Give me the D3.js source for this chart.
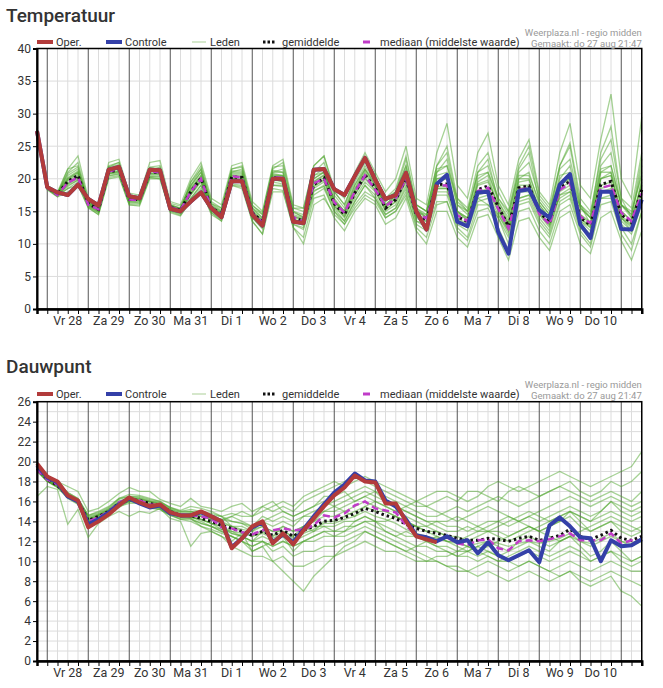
<!DOCTYPE html>
<html>
<head>
<meta charset="utf-8">
<script src="https://cdn.jsdelivr.net/npm/d3@7"></script>
<style>
  body { margin: 0; background: #fff; }
  text { font-family: Roboto, Arial, sans-serif; }
</style>
</head>
<body>
<svg width="663" height="688"></svg>
<script>
// 6-hourly steps from do 27 aug 18:00 to vr 11 sep 12:00 (60 points)
const dayLabels = ["Vr 28", "Za 29", "Zo 30", "Ma 31", "Di 1", "Wo 2", "Do 3",
                   "Vr 4", "Za 5", "Zo 6", "Ma 7", "Di 8", "Wo 9", "Do 10"];

// ---- Temperatuur ----
const tempOper = [27.3,18.7,17.9,17.5,19.1,16.9,15.9,21.4,21.8,17.3,17.0,21.4,21.3,15.4,15.0,16.5,17.9,15.5,14.1,19.6,
  19.6,14.5,12.8,20.0,20.0,13.4,13.2,21.4,21.5,18.4,17.5,20.4,23.2,19.8,16.9,17.5,20.9,15.0,12.2,19.1];
const tempControle = [27.3,18.7,17.9,17.5,19.1,16.9,15.9,21.4,21.8,17.3,17.0,21.4,21.3,15.4,15.0,16.5,17.9,15.5,14.1,19.6,
  19.6,14.5,12.8,20.0,20.0,13.4,13.2,21.4,21.5,18.4,17.5,20.4,23.2,19.8,16.9,17.5,20.9,15.0,12.2,19.2,
  20.6,13.4,12.7,17.9,18.0,11.8,8.5,18.1,18.4,15.2,14.0,19.1,20.7,13.0,10.9,18.0,18.0,12.3,12.2,16.8];
const tempMean = [27.3,18.7,17.6,19.6,20.5,16.2,15.3,21.0,21.4,16.8,16.8,21.0,21.0,15.6,15.2,18.0,20.1,15.5,14.6,20.3,
  20.2,14.8,13.4,20.2,20.0,14.0,13.5,19.1,20.1,16.2,14.5,17.8,20.6,18.6,15.5,16.8,20.1,14.5,13.7,19.1,
  19.2,14.2,13.4,18.3,18.9,15.7,12.7,18.6,18.9,15.0,13.2,18.6,19.6,14.0,12.9,19.1,19.6,14.5,13.2,18.3];
const tempMedian = [27.3,18.6,17.5,19.4,20.2,16.0,15.3,21.1,21.5,16.8,16.7,21.1,21.0,15.6,15.2,18.0,20.0,15.4,14.5,20.4,
  20.2,14.7,13.3,20.3,20.1,14.1,13.4,19.3,20.0,16.4,14.8,18.0,20.5,18.3,15.8,17.0,20.0,14.7,13.9,18.9,
  19.0,14.4,13.5,18.1,18.6,15.4,12.4,18.3,18.6,14.6,13.0,18.3,19.3,14.2,13.2,18.6,19.0,14.8,13.5,17.8];
const tempMembers = [
  [27.5,18.9,17.8,20.5,21.5,16.5,15.5,21.5,22,17,17,21.5,21.5,16,15.5,19,21,16,15,21,21,15.5,14,21,21,15,14,20,21,17,15,19,22,19.5,16,17.5,21.5,15.5,14.5,20.5,21,15,14,20,21,16.5,13.5,20,21,16,14,20,22,15.5,14,21,22,16,14.5,21],
  [27.2,18.5,17.4,18.5,19.5,15.8,14.8,20.5,20.8,16.5,16.3,20.3,20.4,15.2,14.6,17,19,15,14,19.5,19.5,14,12.5,19,19,13,12.5,18,19,15.5,13.5,16.5,19,17.5,14.5,15.5,19,13.5,12.5,17.5,17.5,13,12,16.5,17,14,11,16.5,17,13.5,11.5,16.5,17.5,12.5,11,17,17.5,13,11.5,16],
  [27.4,18.8,17.7,21,22.5,16.8,15.8,22,22.5,17.5,17.2,21.8,22,16,15.4,19.5,22,16.5,15.5,21.5,22,16,14.5,21.5,22.5,15.5,15,21,22.5,18,16,20,23,20.5,17,18.5,23.5,16,15,22,25,17,15.5,22,24,18,15,22,25,17.5,15.5,22,25.5,17,15,23,26,17,15.5,24],
  [27.3,18.6,17.5,19,19.8,16,15,20.8,21,16.6,16.6,20.5,20.6,15.4,15,17.5,19.5,15.2,14.2,19.8,19.6,14.5,13,19.5,19.2,13.5,12.8,18.2,18.8,15,13,16,18,17,14,15,18,12.5,11,16,16.5,12,10.5,15,15.5,12.5,9,15,15.5,12,10,15,16,11.5,9.5,16,16.5,11.5,9,15],
  [27.6,18.8,17.8,20,21,16.4,15.5,21.2,21.8,17,17,21.2,21.2,15.8,15.4,18.5,20.5,15.8,14.8,20.8,20.8,15,13.8,20.8,20.5,14.5,14,20,21,16.5,15,18.5,21.5,19,16,17.5,21,15,14.5,21,23,16,14.5,21,23,16.5,14,21.5,24,16.5,14.5,22,25,16,14,24,28,17,14,22],
  [27.1,18.4,17.3,19.2,20,15.9,15,20.9,21.2,16.4,16.5,20.8,20.7,15.5,15.1,17.8,19.8,15.2,14.4,20,19.8,14.6,13,20,19.5,13.8,13,18.5,19.5,15.8,14,17,19.5,18,15,16,19.5,14,13,18.5,18.5,13.5,12.5,17.5,18,15,12,18,18,14.5,12.5,17.5,18.5,13.5,12,18,18.5,14,12.5,17],
  [27.3,18.7,17.6,19.8,20.8,16.2,15.3,21,21.5,16.9,16.8,21,21.1,15.6,15.3,18.2,20.3,15.6,14.7,20.5,20.4,15,13.5,20.5,20.5,14.2,13.8,19.5,20.5,16.5,14.8,18,21,19,15.8,17,20.5,15,14,19.5,20,15,14,19,19.5,16,13,19,19,15.5,13.5,19,20,14.5,13,20,20.5,15,13.5,19],
  [27.8,19,18,21.5,23.5,17,16,22.5,23,17.8,17.5,22.5,22.8,16.5,16,20,22.5,17,16,22,22.5,16.5,15,22,23,16,15.5,22,23.5,18.5,17,21,24,21,18,20,25,17,16,24,28.5,19,17,24,27,19,16,23,26,18,16,24,28.5,19,17,26,33,20,17,29.5],
  [27,18.3,17.2,18,19,15.5,14.5,20,20.3,16,15.8,20,20,14.8,14.3,16.8,18.5,14.5,13.5,19,18.8,13.5,11.5,18.5,18.2,12.5,11,17,17.5,14,12,15,17,16,13,14,17,12,10,15,15,11,9.5,14,14.5,11,7.5,13.5,14,11,9,14,15,10,8.5,14,15,10.5,7.5,12],
  [27.4,18.9,17.9,20.2,21.2,16.6,15.7,21.6,21.9,17.3,17.1,21.6,21.5,15.9,15.5,18.8,21,16.2,15.2,21.2,21.2,15.3,14,21.3,21,14.8,14.2,20.5,21.5,17.5,15.5,19.5,22.5,20,16.5,18,22,16,15,21.5,22,16,15,20.5,21,17,14.5,20.5,20.5,16.5,14.5,20.5,21,15.5,14,21.5,22,16,15,20.5],
  [27.2,18.6,17.5,19.4,20.3,16.1,15.2,20.8,21.2,16.7,16.6,20.7,20.8,15.4,15,17.6,19.8,15.3,14.4,20.1,19.9,14.5,13.2,19.8,19.6,13.8,13.2,18.8,19.8,15.8,14.2,17.5,20,18.2,15.2,16.5,19.8,14.3,13.5,18.8,18.8,14,13,18,18.5,15.5,12.5,18.5,18.8,14.8,13,18.5,19.5,13.8,12.8,19,19.5,14.3,13,18],
  [27.3,18.7,17.7,19.7,20.6,16.3,15.4,21.1,21.5,16.9,16.9,21.1,21.2,15.7,15.3,18.1,20.2,15.6,14.7,20.4,20.3,14.9,13.5,20.3,20.1,14.1,13.6,19.2,20.2,16.3,14.6,17.9,20.7,18.7,15.6,16.9,20.2,14.6,13.8,21,22,17,15,17,16,14.5,12,17,17.5,16,14,17,18,16,13,20,21,16,14,19],
  [27.5,18.8,17.7,21.5,22,16.3,15.5,21.8,22.5,17.4,17,21.2,21.8,15.9,15.2,19.5,21.5,15.8,15,21,21.5,15.5,14.5,21,21.5,15,14.5,20.5,21,16.8,15,19,21.5,19.5,16.5,18,22,15.5,14,20,20.5,15,13.5,19.5,20.5,15.5,13,20,20,15,13,19,20,14,12.5,21,21,14,12,20],
  [27.2,18.5,17.4,18.8,19.8,15.7,14.8,20.4,20.7,16.2,16.2,20.3,20.2,15,14.7,17,19,14.8,13.8,19.2,19,14,12.3,19,18.8,13,12.2,17.5,18.5,15,13.5,16.5,19,17,14.5,15.5,18.5,13.5,13,18,18,13.5,12.5,17,17.5,14.5,11.5,17,17.5,14,12,17.5,18,13,11.5,18,18,13.5,12,16.5],
  [27.4,18.8,17.8,20.8,21.8,16.6,15.6,21.8,22.2,17.2,17.2,21.7,21.6,16.2,15.8,19,21.5,16.2,15.5,21.5,21.8,15.8,14.8,21.8,22,15.5,15.5,22,23.5,18,16,20,23.5,20.5,17,18,23,16,15,22,24,16.5,15,21,22,17,15,21,22.5,17,15,21.5,23,16,14.5,22,24,16,14.5,23],
  [27.1,18.4,17.3,18.5,19,15.6,14.5,20.2,20.5,16,16,20.2,20,15,14.4,16.5,18,14.8,13.5,19,18.5,13.5,11.5,18,18,12.5,10,16,17,14.5,13,15.5,17.5,16.5,14,15,17.5,13,12,16.5,16.5,12.5,11,16,16,14,10,16,16.5,13,11,16,17,12,10,17,17,12.5,10,15],
  [27.3,18.6,17.6,20,21,16.2,15.2,21.3,21.7,16.8,16.8,21.3,21.4,15.6,15.1,18.5,20.5,15.4,14.5,20.6,20.6,14.8,13.6,20.6,20.4,14.3,13.8,19.6,20.6,16.6,14.8,18.3,21.3,19.2,15.8,17.3,20.8,15,14.2,20,20,14.8,13.8,19.2,19.8,16,13.2,19.5,19.8,15.5,13.6,19.5,20.5,14.5,13.4,20,20.5,15,13.6,19.5],
  [27.2,18.7,17.5,19.2,20.2,16,15.1,20.7,21,16.6,16.7,20.8,20.8,15.4,15,17.7,19.7,15.3,14.4,20,19.9,14.6,13.2,19.9,19.7,13.8,13.3,18.8,19.8,16,14.3,17.5,20.2,18.3,15.3,16.5,19.7,14.2,13.4,18.5,18.5,13.8,12.8,17.8,18.3,15.2,12.2,18,18.3,14.6,12.8,18,19,13.5,12.5,18.5,19,14,12.8,17.5]
];

// ---- Dauwpunt ----
const dewOper = [19.8,18.5,18.0,16.6,16.1,13.4,14.0,14.7,15.6,16.4,15.9,15.5,15.7,14.9,14.6,14.6,15.0,14.5,14.0,11.3,
  12.3,13.5,14.0,11.8,12.8,11.7,13.1,14.3,15.5,16.6,17.4,18.6,18.0,17.9,15.8,15.8,14.0,12.5,12.2,11.9];
const dewControle = [19.6,18.4,17.9,16.5,16.0,13.7,14.2,14.9,15.7,16.3,15.8,15.4,15.6,14.8,14.6,14.6,14.9,14.5,14.0,11.4,
  12.3,13.4,13.9,11.9,12.7,11.9,13.2,14.5,15.7,16.9,17.7,18.8,18.1,18.0,16.1,15.5,14.2,12.6,12.4,12.0,
  12.5,11.9,12.1,10.8,11.9,10.6,10.1,10.6,11.1,9.9,13.6,14.4,13.5,12.4,12.3,10.0,12.1,11.5,11.6,12.2];
const dewMean = [19.3,18.2,17.6,16.6,16.0,14.1,14.5,15.0,15.8,16.2,16.1,15.8,15.6,15.0,14.6,14.6,14.3,14.0,13.6,13.3,
  13.0,12.6,13.0,12.6,13.1,12.5,13.1,13.5,14.0,14.1,14.4,14.8,15.3,15.0,14.6,14.3,13.7,13.3,13.0,12.8,
  12.6,12.3,12.1,12.1,12.3,12.2,12.0,12.3,12.5,12.1,12.3,12.6,13.2,12.5,12.2,12.6,13.1,12.3,12.1,12.5];
const dewMedian = [19.2,18.2,17.7,16.5,15.9,14.0,14.4,15.0,15.9,16.3,16.1,15.7,15.6,14.9,14.7,14.6,14.5,14.3,13.4,13.3,
  12.9,12.7,13.1,13.1,13.3,13.1,13.2,13.6,14.6,14.4,14.8,15.6,16.0,15.3,15.1,14.9,13.6,12.6,12.4,12.1,
  12.4,11.8,11.6,12.1,12.2,11.3,11.1,12.0,12.1,12.0,12.2,12.5,12.8,12.1,12.1,12.1,12.8,11.8,12.1,12.1];
const dewMembers = [
  [19.5,18.4,17.8,16.8,16.2,14.5,14.8,15.3,16.2,16.5,16.5,16.2,16,15.3,15,15.2,15,14.8,14.5,14,13.8,13.5,14,13.5,14,13.5,14.5,15,15.5,16,16.5,17,17.5,17,16,15.5,15,14.5,14,14,13.5,13.5,13,13.5,14,14,13.5,14,14.5,14,14.5,15,15.5,15,14.5,15,16,15,14.5,15],
  [19,18,17.4,16.3,15.7,13.5,14,14.6,15.4,16,15.8,15.4,15.2,14.6,14.2,14,13.5,13.2,12.8,12.5,12,11.5,12,11.5,12,11.5,12,12.5,13,13,13.5,13.5,14,13.5,13,12.5,12,11.5,11.5,11,11,10.5,10.5,10,10.5,10,10,10.5,11,10.5,10,10.5,11,10.5,10,10.5,11,10,9.5,10],
  [19.4,18.3,17.7,16.7,16.1,14.3,14.7,15.2,16,16.3,16.2,16,15.8,15.2,14.9,15,14.8,14.6,14.5,14.8,14.5,14.5,15.5,15,15.5,15,16,16.5,17,17.5,18,18.5,18,17.5,17,16.5,16,15.5,15.5,16,16.5,16,17,17,16.5,16,17,17.5,17,16.5,17,17.5,18,17,16.5,17,18,17.5,18,19],
  [19.2,18.1,17.5,16.4,15.8,13.8,14.3,14.8,15.6,16,15.9,15.5,15.3,14.7,14.2,14.2,13.8,13.5,13,12.5,12,11.5,12,11,11.5,10.5,11,11,11.5,11.5,12,12.5,13,12.5,12,11.5,11,10.5,10,10,9.5,9,9,8.5,9,8.5,8,8.5,9,8.5,8,8.5,9,8,7.5,8,8.5,7,6.5,5.5],
  [19.6,18.3,17.7,16.6,16,14.2,14.6,15.1,15.9,16.3,16.1,15.7,15.7,15.1,14.7,14.4,14.2,13.8,13.2,12.8,12.5,12,13,12.5,13.5,13,13.5,13,14,14,14.5,15,15.5,15,15,14.5,14,13.5,13,12.5,12,12,12.5,13,13.5,14,14.5,14,13.5,13,13.5,14,15,14,13,13.5,14,13,12.5,13],
  [16.5,17.5,17.2,13.7,15.2,12.4,13.8,14.5,15,14.5,15,14.8,15.3,14.3,14,11.5,12.8,13,12.5,12,12.8,11,11.5,12,12.5,11,12,12.5,13,12.5,13,14,14.5,14,13,12.5,13,12.5,12,11.5,11,10.5,11,11.5,11,10.5,11,11.5,12,11.5,11,12,12.5,11.5,10.5,11,12,11,10,10.5],
  [19.3,18.2,17.6,16.6,16,14.2,14.6,15.1,15.9,16.2,16.2,15.9,15.6,15,14.7,14.8,14.5,14.2,13.8,13.5,13.2,13,13.5,13,13.5,13,13.5,14,14.5,14.5,15,15.5,16,15.5,15,14.5,14,13.5,13,13,12.5,12.5,12,12.5,13,13,12.5,13,13.5,13,13.5,14,14.5,13.5,13,13.5,14,13.5,13,13.5],
  [19.5,18.4,17.8,16.9,16.3,14.6,15,15.5,16.3,16.5,16.4,16.1,15.9,15.4,15.1,15.5,15.3,15,14.5,13.5,13.5,13,14,14.5,15,14.5,15,15.5,16,15.5,15,14.5,15.5,16,15.5,15,15.5,16,16.5,17,17,16.5,16,16.5,17.5,18,17.5,17,17.5,18,18.5,19,18.5,18,17.5,18,18.5,19,19.5,21],
  [19.1,18,17.5,16.5,15.9,13.9,14.3,14.8,15.5,15.8,15.8,15.3,15.2,14.6,14.3,14.3,13.5,13,12.5,11.5,11,10.5,10.5,10,10.5,9.5,9.5,10,10.5,10.5,11,11.5,12,11.5,11,11,10.5,10,10,10.5,10.5,11,11.5,11,10.5,10,10.5,11,11.5,11,10.5,11,11.5,11,10,10.5,11,10.5,10,10.5],
  [19.4,18.3,17.7,16.7,16.2,14.4,14.7,15.2,16,16.4,16.3,16,15.8,15.2,14.8,14.9,14.8,14.5,14.2,14,13.8,13.2,13.5,13,13,12.5,13,13.5,13.5,13,13,13.5,14,14,14,14.5,14,13.5,13.5,14,14,14.5,14,13.5,13,12.5,12,12.5,13,13.5,14,14.5,15,14.5,14,15,16,15.5,15,15.5],
  [19.2,18.1,17.5,16.5,15.9,14,14.4,14.9,15.7,16.1,16,15.6,15.4,14.8,14.4,14.5,14,13.5,13,12.5,12,11,11.5,10,9,8,7,8.5,9.5,10.5,11.5,12,13,12.5,12,11.5,11,11.5,12,12.5,12,11.5,11,11.5,12,11.5,11,12,12.5,12,11.5,12,12.5,12,11.5,12,12.5,12,11.5,12],
  [19.5,18.3,17.6,16.6,16.1,14.1,14.6,15.1,15.9,16.4,16.3,16,15.7,15,14.6,14.8,14.6,14.3,14,14.5,14,13.5,14.5,14,14.5,14,14.5,14.5,15,15,15.5,16,16.5,16,15.5,15,14.5,14,13.5,13,12.5,12,11.5,11,11.5,12,12.5,13,13.5,13,12.5,12,12.5,13,13.5,14,14.5,14,13.5,13],
  [19.3,18.2,17.6,16.6,16,14,14.5,15,15.8,16.1,16,15.8,15.5,15,14.6,14.7,14.5,14.2,14.2,14.5,15,14.5,15,15.5,16,15.5,16.5,17,17.5,18,17.5,18,18.5,18,17.5,17,16.5,16,15.5,15,14.5,14,14.5,15,15.5,15,14.5,14,14.5,15,15.5,16,16.5,16,15.5,16,16.5,16,15.5,16],
  [19.1,18,17.4,16.4,15.8,13.7,14.2,14.8,15.6,16,15.9,15.5,15.4,14.8,14.4,14.3,13.8,13.5,13.2,13,12.5,12,12.5,12,12.5,12,12.5,13,13.5,13.5,14,14,14.5,14,13.5,13,12.5,12.5,12,11.5,11.5,11,11,10.5,11,10.5,10,9.5,10,9.5,9,9.5,10,9.5,9,9.5,10,9.5,9,9],
  [19.6,18.5,17.9,16.9,16.3,14.6,14.9,15.4,16.3,16.7,16.6,16.3,16,15.4,15,15,14.8,14.5,14,13.5,13,12.5,13,12.5,13,12.5,13.5,14,15,15.5,16,16.5,17,16.5,16,15.5,15,14.5,14,13.5,13,13,13.5,13,13,13.5,14,14.5,15,14.5,14,14.5,15,14.5,14,14.5,15,14.5,14,14.5],
  [19.2,18.1,17.5,16.5,16,14,14.4,14.9,15.7,16,16,15.7,15.5,14.9,14.5,14.4,14.2,13.8,13.5,13,12.8,12.5,12.8,12.3,12.8,12.3,12.8,13.2,13.8,13.8,14.2,14.5,15,14.5,14.2,13.8,13.2,12.8,12.5,12.3,12,11.8,11.5,11.8,12,11.8,11.5,11.8,12,11.8,12,12.3,12.8,12,11.8,12.3,12.8,12,11.8,12.3],
  [19.8,18.6,18,17.5,17,15,15.3,16,16.8,17.4,17,17,16.2,15.8,15.5,16.3,15.5,15.3,15,15.5,15.8,15,15.5,16,15,14.5,15,15.5,16.5,16.5,17,16,16.5,17,16.5,16,15.5,15,14.5,14.5,15,15.5,15,15.5,16,16.5,16,15.5,16,16.5,17,17.5,17,16.5,16,16.5,17,16.5,16,17],
  [19.3,18.1,17.6,16.5,15.9,13.9,14.4,14.9,15.7,16.1,16,15.7,15.6,15,14.6,14.5,14.2,13.8,13.5,12.8,12.5,12,12,11.5,12,11.5,12,12,12.5,12.5,12.5,13,13.5,13,12.5,12,11.5,11,10.5,10,9.5,9.5,9,9.5,10,9.5,9,9.5,10,9.5,9,8.5,9,8.5,8,8.5,9,8.5,8,7.5]
];

const svg = d3.select("svg");
const nPoints = 60;
const left = 37, right = 641.75;

const colOper = "#b23b3b";
const colControle = "#3440a8";
const colLeden = "#4ea52c";
const colMedian = "#c03cc8";

function drawPanel(cfg) {
    const x = d3.scaleLinear().domain([0, nPoints - 1]).range([left, right]);
    const y = d3.scaleLinear().domain([0, cfg.yMax]).range([cfg.bottom, cfg.top]);
    const g = svg.append("g");

    //title
    g.append("text")
        .attr("x", 6)
        .attr("y", cfg.titleY)
        .attr("font-size", 19)
        .attr("font-weight", 500)
        .attr("fill", "#333")
        .text(cfg.title);

    //horizontal grid
    g.append("g")
        .selectAll("line")
        .data(d3.range(0, cfg.yMax + 0.001, cfg.gridStep))
        .join("line")
        .attr("x1", left).attr("x2", right)
        .attr("y1", d => y(d)).attr("y2", d => y(d))
        .attr("stroke", "#dcdcdc").attr("stroke-width", 1);

    //vertical grid every 6 hours, dark line at midnight
    g.append("g")
        .selectAll("line")
        .data(d3.range(nPoints))
        .join("line")
        .attr("x1", d => x(d)).attr("x2", d => x(d))
        .attr("y1", cfg.top).attr("y2", cfg.bottom)
        .attr("stroke", d => (d % 4 === 1) ? "#555" : "#dcdcdc")
        .attr("stroke-width", 1);

    const line = d3.line()
        .x((d, i) => x(i))
        .y(d => y(d));

    //ensemble members
    g.append("g")
        .selectAll("path")
        .data(cfg.members)
        .join("path")
        .attr("d", line)
        .attr("fill", "none")
        .attr("stroke", colLeden)
        .attr("stroke-opacity", 0.5)
        .attr("stroke-width", 1.3);

    g.append("path").attr("d", line(cfg.mean))
        .attr("fill", "none").attr("stroke", "#111")
        .attr("stroke-width", 3).attr("stroke-dasharray", "2.5,3");
    g.append("path").attr("d", line(cfg.median))
        .attr("fill", "none").attr("stroke", colMedian)
        .attr("stroke-width", 2.5).attr("stroke-dasharray", "7,4");
    g.append("path").attr("d", line(cfg.controle))
        .attr("fill", "none").attr("stroke", colControle)
        .attr("stroke-width", 4).attr("stroke-linejoin", "round");
    g.append("path").attr("d", line(cfg.oper))
        .attr("fill", "none").attr("stroke", colOper)
        .attr("stroke-width", 4).attr("stroke-linejoin", "round");

    //frame
    g.append("rect")
        .attr("x", left).attr("y", cfg.top)
        .attr("width", right - left).attr("height", cfg.bottom - cfg.top)
        .attr("fill", "none").attr("stroke", "#000").attr("stroke-width", 1.5);

    //y axis
    const yAxis = d3.axisLeft(y)
        .tickValues(d3.range(0, cfg.yMax + 0.001, cfg.labelStep))
        .tickSize(4)
        .tickPadding(2);
    const ya = g.append("g").attr("transform", `translate(${left},0)`).call(yAxis);
    ya.select(".domain").attr("stroke-width", 2);
    ya.selectAll("text").attr("font-size", 12).attr("fill", "#333")
        .attr("font-family", "Roboto, Arial, sans-serif");

    //x axis: tick every 6 hours, labels at noon
    const xAxis = d3.axisBottom(x)
        .tickValues(d3.range(nPoints))
        .tickSize(5)
        .tickFormat("");
    const xa = g.append("g").attr("transform", `translate(0,${cfg.bottom})`).call(xAxis);
    xa.select(".domain").attr("stroke-width", 2.5);

    g.append("g")
        .selectAll("text")
        .data(dayLabels)
        .join("text")
        .attr("x", (d, i) => x(3 + 4 * i))
        .attr("y", cfg.bottom + 16)
        .attr("text-anchor", "middle")
        .attr("font-size", 12.5)
        .attr("fill", "#333")
        .text(d => d);

    drawLegend(g, cfg.legendY);
}

function drawLegend(g, ly) {
    const items = [
        {x: 37, w: 16, tx: 56, label: "Oper.", stroke: colOper, width: 4, dash: null},
        {x: 106, w: 16, tx: 125, label: "Controle", stroke: colControle, width: 4, dash: null},
        {x: 192, w: 14, tx: 210, label: "Leden", stroke: "#b9d8a9", width: 1.2, dash: null},
        {x: 263, w: 13, tx: 282, label: "gemiddelde", stroke: "#111", width: 3, dash: "2.5,2"},
        {x: 363, w: 11, tx: 380, label: "mediaan (middelste waarde)", stroke: colMedian, width: 3, dash: "7,4"}
    ];
    items.forEach(it => {
        g.append("line")
            .attr("x1", it.x).attr("x2", it.x + it.w)
            .attr("y1", ly).attr("y2", ly)
            .attr("stroke", it.stroke)
            .attr("stroke-width", it.width)
            .attr("stroke-dasharray", it.dash);
        g.append("text")
            .attr("x", it.tx)
            .attr("y", ly + 4)
            .attr("font-size", 11)
            .attr("font-family", "'Liberation Sans', Arial, sans-serif")
            .attr("fill", "#333")
            .text(it.label);
    });
    g.append("text")
        .attr("x", right).attr("y", ly - 6)
        .attr("text-anchor", "end").attr("font-size", 9.5)
        .attr("font-family", "'Liberation Sans', Arial, sans-serif")
        .attr("fill", "#999")
        .text("Weerplaza.nl - regio midden");
    g.append("text")
        .attr("x", right).attr("y", ly + 5)
        .attr("text-anchor", "end").attr("font-size", 9.5)
        .attr("font-family", "'Liberation Sans', Arial, sans-serif")
        .attr("fill", "#999")
        .text("Gemaakt: do 27 aug 21:47");
}

drawPanel({
    title: "Temperatuur", titleY: 22, legendY: 42,
    top: 48.5, bottom: 309, yMax: 40, labelStep: 5, gridStep: 5,
    members: tempMembers, mean: tempMean, median: tempMedian,
    controle: tempControle, oper: tempOper
});

drawPanel({
    title: "Dauwpunt", titleY: 373, legendY: 394,
    top: 401.7, bottom: 661, yMax: 26, labelStep: 2, gridStep: 1,
    members: dewMembers, mean: dewMean, median: dewMedian,
    controle: dewControle, oper: dewOper
});
</script>
</body>
</html>
